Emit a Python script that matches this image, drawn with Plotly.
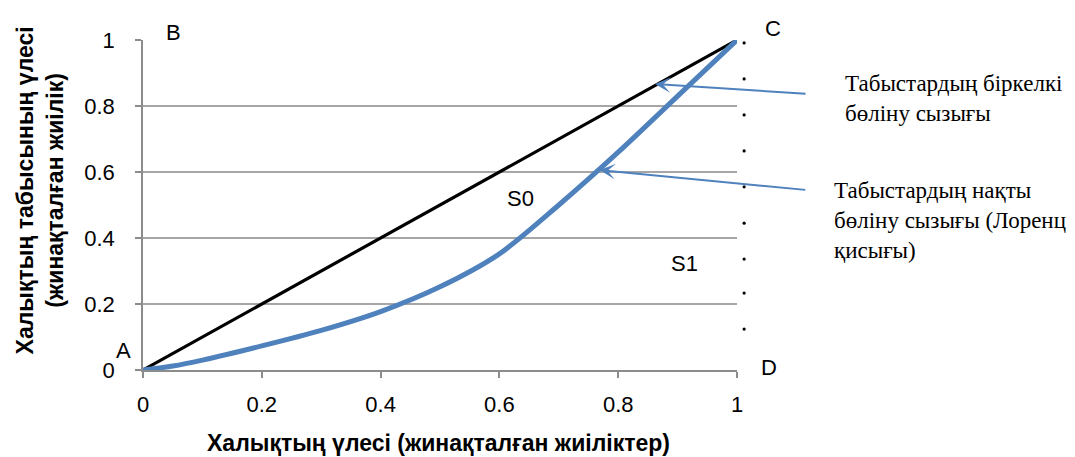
import plotly.graph_objects as go

# Data
equality_x = [0, 1]
equality_y = [0, 1]
lorenz_x = [0, 0.05, 0.1, 0.2, 0.3, 0.4, 0.5, 0.6, 0.7, 0.8, 0.9, 1.0]
lorenz_y = [0, 0.012, 0.03, 0.073, 0.12, 0.177, 0.252, 0.352, 0.5, 0.66, 0.83, 1.0]
dots_x = 1.012
dots_y = [0.991, 0.882, 0.773, 0.664, 0.555, 0.445, 0.336, 0.233, 0.124]
tick_vals = [0, 0.2, 0.4, 0.6, 0.8, 1]
tick_text = ["0", "0.2", "0.4", "0.6", "0.8", "1"]

x_title = "Халықтың үлесі (жинақталған жиіліктер)"
y_title_1 = "Халықтың табысының үлесі"
y_title_2 = "(жинақталған жиілік)"
label_equal = "Табыстардың біркелкі<br>бөліну сызығы"
label_lorenz = "Табыстардың нақты<br>бөліну сызығы (Лоренц<br>қисығы)"

BLUE = "#4F81BD"
GRAY = "#8C8C8C"
SANS = "Liberation Sans, Arial, sans-serif"
SERIF = "Liberation Serif, Times New Roman, serif"

fig = go.Figure()
fig.add_trace(go.Scatter(x=equality_x, y=equality_y, mode="lines",
                         line=dict(color="black", width=3.2), cliponaxis=False,
                         showlegend=False, hoverinfo="skip"))
fig.add_trace(go.Scatter(x=lorenz_x, y=lorenz_y, mode="lines",
                         line=dict(color=BLUE, width=5, shape="spline", smoothing=0.8),
                         cliponaxis=False, showlegend=False, hoverinfo="skip"))

# dotted guide just right of the plot area (shapes are not clipped to the axes)
for yv in dots_y:
    fig.add_shape(type="circle", xref="paper", yref="y",
                  xsizemode="pixel", ysizemode="pixel", xanchor=dots_x, yanchor=yv,
                  x0=-1.6, x1=1.6, y0=-1.6, y1=1.6,
                  fillcolor="black", line=dict(width=0))

annotations = []
for txt, x, y in [("B", 0.052, 1.024), ("C", 1.061, 1.036), ("A", -0.032, 0.058),
                  ("D", 1.054, 0.009), ("S0", 0.635, 0.521), ("S1", 0.911, 0.324)]:
    annotations.append(dict(text=txt, x=x, y=y, xref="paper", yref="paper",
                            xanchor="center", yanchor="middle", showarrow=False,
                            font=dict(family=SANS, size=22, color="black")))
# arrows
annotations.append(dict(x=0.862, y=0.867, xref="x", yref="y", ax=152, ay=10, text="",
                        showarrow=True, arrowhead=3, arrowsize=1.3, arrowwidth=2,
                        arrowcolor=BLUE))
annotations.append(dict(x=0.769, y=0.606, xref="x", yref="y", ax=207, ay=20, text="",
                        showarrow=True, arrowhead=3, arrowsize=1.3, arrowwidth=2,
                        arrowcolor=BLUE))
# right-side text blocks
annotations.append(dict(text=label_equal, x=1.178, y=0.823, xref="paper", yref="paper",
                        xanchor="left", yanchor="middle", align="left", showarrow=False,
                        font=dict(family=SERIF, size=23, color="black")))
annotations.append(dict(text=label_lorenz, x=1.160, y=0.452, xref="paper", yref="paper",
                        xanchor="left", yanchor="middle", align="left", showarrow=False,
                        font=dict(family=SERIF, size=23, color="black")))
# axis titles
annotations.append(dict(text="<b>" + x_title + "</b>", x=0.498, y=-0.221, xref="paper",
                        yref="paper", xanchor="center", yanchor="middle", showarrow=False,
                        font=dict(family=SANS, size=23, color="black")))
annotations.append(dict(text="<b>" + y_title_1 + "</b><br><b>" + y_title_2 + "</b>",
                        x=-0.173, y=0.545, xref="paper", yref="paper", textangle=-90,
                        xanchor="center", yanchor="middle", showarrow=False,
                        font=dict(family=SANS, size=23, color="black")))

fig.update_layout(
    width=1067, height=449,
    margin=dict(l=135, r=338, t=32, b=87),
    paper_bgcolor="white", plot_bgcolor="white",
    annotations=annotations,
    xaxis=dict(range=[0, 1], tickvals=tick_vals, ticktext=tick_text,
               showgrid=False, showline=True, linecolor=GRAY, linewidth=1.5,
               ticks="outside", ticklen=6, tickcolor=GRAY, tickwidth=1.5, zeroline=False,
               ticklabelstandoff=8,
               tickfont=dict(family=SANS, size=22, color="black")),
    yaxis=dict(range=[0, 1], tickvals=tick_vals, ticktext=tick_text, showgrid=True,
               gridcolor="#A6A6A6", gridwidth=1.5, showline=True, linecolor=GRAY,
               linewidth=1.5, ticks="outside", ticklen=6, tickcolor=GRAY, tickwidth=1.5,
               zeroline=False, ticklabelstandoff=16,
               tickfont=dict(family=SANS, size=22, color="black")),
)

fig.write_html("out.html")
